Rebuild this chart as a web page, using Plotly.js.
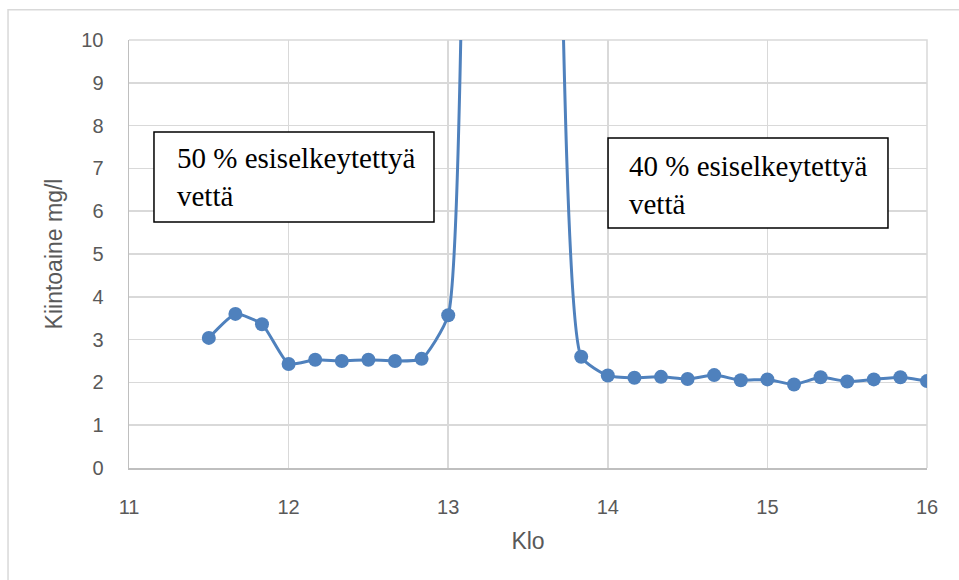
<!DOCTYPE html>
<html>
<head>
<meta charset="utf-8">
<script src="https://cdn.plot.ly/plotly-3.0.1.min.js"></script>
<style>html,body{margin:0;padding:0;background:#fff;}#chart{width:959px;height:580px;}</style>
</head>
<body>
<div id="chart"></div>
<script>
// Time (hours, 10-minute steps) and suspended solids (mg/l)
var klo = [11.5, 11.6667, 11.8333, 12.0, 12.1667, 12.3333, 12.5, 12.6667, 12.8333, 13.0,
           13.1667, 13.3333, 13.5, 13.6667,
           13.8333, 14.0, 14.1667, 14.3333, 14.5, 14.6667, 14.8333, 15.0, 15.1667, 15.3333,
           15.5, 15.6667, 15.8333, 16.0];
var kiintoaine = [3.04, 3.6, 3.36, 2.43, 2.53, 2.5, 2.53, 2.5, 2.55, 3.57,
                  34, 40, 30, 19.5,
                  2.6, 2.16, 2.11, 2.13, 2.08, 2.17, 2.05, 2.07, 1.95, 2.12,
                  2.02, 2.07, 2.12, 2.03];
var xTicks = [11, 12, 13, 14, 15, 16];
var yTicks = [0, 1, 2, 3, 4, 5, 6, 7, 8, 9, 10];
var label1 = "50 % esiselkeytettyä<br>vettä";
var label2 = "40 % esiselkeytettyä<br>vettä";

var blue = '#4f81bd';
var tickFont = {family: 'Liberation Sans, Arial, sans-serif', size: 20, color: '#595959'};
var titleFont = {family: 'Liberation Sans, Arial, sans-serif', size: 23, color: '#595959'};
var boxFont = {family: 'Liberation Serif, Times New Roman, serif', size: 29, color: '#000000'};

var trace = {
  x: klo, y: kiintoaine, type: 'scatter', mode: 'lines+markers',
  line: {color: blue, width: 3, shape: 'spline', smoothing: 0.5},
  marker: {color: blue, size: 14},
  cliponaxis: true, hoverinfo: 'x+y'
};

var layout = {
  width: 959, height: 580,
  margin: {l: 129, r: 32, t: 40, b: 112},
  paper_bgcolor: '#ffffff', plot_bgcolor: '#ffffff',
  showlegend: false,
  xaxis: {
    range: [11, 16], tickvals: xTicks, ticktext: xTicks.map(String),
    showgrid: true, gridcolor: '#d9d9d9', gridwidth: 1.5,
    showline: true, linecolor: '#bfbfbf', linewidth: 1.5,
    zeroline: false, ticks: '', ticklabelstandoff: 20,
    tickfont: tickFont,
    title: {text: 'Klo', font: titleFont, standoff: 16}
  },
  yaxis: {
    range: [0, 10], tickvals: yTicks, ticktext: yTicks.map(String),
    showgrid: true, gridcolor: '#d9d9d9', gridwidth: 1.5,
    showline: true, linecolor: '#bfbfbf', linewidth: 1.5,
    zeroline: false, ticks: '', ticklabelstandoff: 20,
    tickfont: tickFont,
    title: {text: 'Kiintoaine mg/l', font: titleFont, standoff: 12}
  },
  shapes: [
    {type: 'path', xref: 'paper', yref: 'paper',
     path: 'M -0.1516 -0.3 L -0.1516 1.0705 L 1.1 1.0705',
     line: {color: '#d9d9d9', width: 1.5}},
    {type: 'path', xref: 'paper', yref: 'paper', layer: 'below',
     path: 'M 0 1 L 1 1 L 1 0',
     line: {color: '#d9d9d9', width: 1.5}},
    {type: 'rect', xref: 'paper', yref: 'paper', x0: 0.0313, x1: 0.3822, y0: 0.5748, y1: 0.785,
     line: {color: '#000000', width: 1.5}, fillcolor: '#ffffff', layer: 'above'},
    {type: 'rect', xref: 'paper', yref: 'paper', x0: 0.6003, x1: 0.9511, y0: 0.5607, y1: 0.771,
     line: {color: '#000000', width: 1.5}, fillcolor: '#ffffff', layer: 'above'}
  ],
  annotations: [
    {xref: 'paper', yref: 'paper', x: 0.0576, y: 0.68, xanchor: 'left', yanchor: 'middle',
     text: label1, showarrow: false, align: 'left', font: boxFont},
    {xref: 'paper', yref: 'paper', x: 0.6241, y: 0.661, xanchor: 'left', yanchor: 'middle',
     text: label2, showarrow: false, align: 'left', font: boxFont}
  ]
};

Plotly.newPlot('chart', [trace], layout, {displayModeBar: false, staticPlot: true});
</script>
</body>
</html>
